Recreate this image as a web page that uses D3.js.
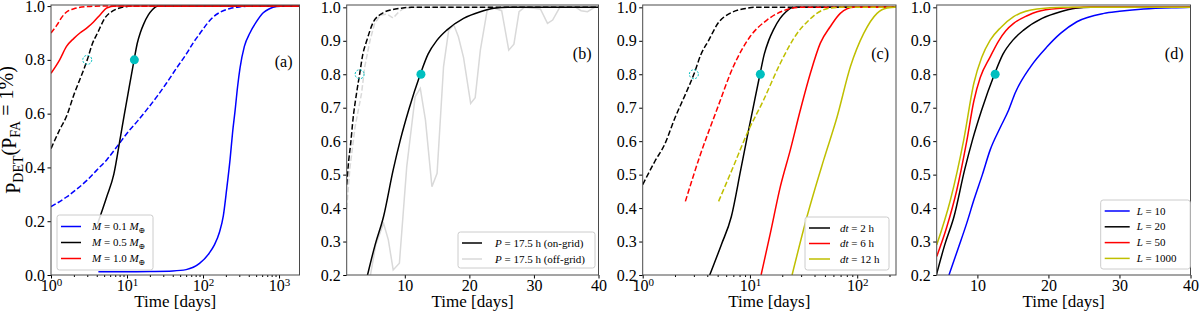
<!DOCTYPE html>
<html>
<head>
<meta charset="utf-8">
<script src="https://cdn.jsdelivr.net/npm/d3@7"></script>
<style>
  body { margin: 0; background: #fff; }
  svg { display: block; }
  text { font-family: "Liberation Serif", "DejaVu Serif", serif; fill: #000; }
</style>
</head>
<body>
<div id="chart"></div>
<script>
// ---- data: [time in days, P_DET] ----

// (a) mass series
const massSmallSolid = [[4.2,0.012],[10,0.012],[20,0.013],[40,0.015],[60,0.02],[90,0.043],[120,0.08],[140,0.11],[165,0.16],[185,0.22],[205,0.32],[227,0.43],[245,0.53],[264,0.61],[285,0.70],[307,0.77],[350,0.85],[414,0.90],[500,0.94],[620,0.975],[750,0.99],[930,0.998],[1200,1.0],[1900,1.0]];
const massSmallDash = [[1,0.254],[1.6,0.29],[2.2,0.32],[3,0.353],[4,0.39],[5.4,0.428],[7.5,0.48],[10,0.527],[14,0.575],[18,0.613],[25,0.665],[33,0.713],[45,0.77],[61,0.824],[75,0.865],[91,0.898],[110,0.93],[137,0.96],[170,0.978],[227,0.991],[300,0.997],[414,1.0],[1900,1.0]];
const massLargeSolid = [[1,0.75],[1.3,0.80],[1.6,0.85],[2,0.88],[2.4,0.90],[3,0.92],[3.6,0.94],[4.5,0.97],[5.4,0.993],[7,1.0],[1900,1.0]];
const massLargeDash = [[1,0.90],[1.2,0.93],[1.4,0.96],[1.6,0.978],[2,0.99],[3,0.998],[5,1.0],[1900,1.0]];

// reference case (0.5 M_earth, P = 17.5 h on-grid, dt = 2 h, L = 20), shared by all panels
const onGrid = [[4.1,0.19],[5.4,0.29],[6.7,0.374],[8.2,0.514],[9.3,0.603],[10.6,0.693],[12.4,0.80],[13.6,0.86],[15,0.902],[16.5,0.932],[19.1,0.967],[21.7,0.987],[23.8,0.997],[26,1.0],[1900,1.0]];
const onGridDash = [[1,0.47],[1.3,0.54],[1.6,0.59],[2.0,0.67],[2.5,0.74],[3.0,0.80],[3.5,0.86],[4.1,0.90],[5.1,0.955],[6.5,0.982],[8,0.993],[9.3,0.997],[11,1.0],[1900,1.0]];

// (b) off-grid period
const offGrid = [[4.5,0.18],[5.5,0.29],[6.7,0.355],[7.45,0.305],[8.2,0.215],[9.16,0.235],[10.3,0.524],[11.6,0.733],[12.4,0.758],[13.2,0.663],[14.2,0.464],[15,0.504],[16,0.823],[16.8,0.932],[17.6,0.947],[18.3,0.912],[19.1,0.85],[20.2,0.713],[20.9,0.73],[21.7,0.872],[22.75,0.99],[23.5,1.0],[25,0.99],[26.1,0.872],[26.9,0.89],[27.7,0.987],[28.5,1.0],[31,0.995],[32.1,0.952],[32.9,0.962],[34,1.0],[36.5,1.0],[37.3,0.99],[38.3,0.987],[39.4,1.0],[40,1.0]];
const offGridDash = [[1,0.40],[1.5,0.52],[2.3,0.643],[3.3,0.743],[3.8,0.823],[4.6,0.90],[5.3,0.95],[6.2,0.977],[7.2,0.98],[8.2,0.968],[9,0.985],[9.8,0.997],[11,1.0],[40,1.0]];

// (c) sampling interval
const dt6Solid = [[12.7,0.2],[15.5,0.325],[19.2,0.464],[23.8,0.574],[29.5,0.693],[36.6,0.803],[45.3,0.893],[56,0.942],[69.5,0.982],[93,1.0],[300,1.0]];
const dt6Dash = [[2.5,0.42],[3.4,0.554],[4.9,0.693],[7,0.823],[10,0.912],[14.4,0.962],[20.6,0.99],[30,1.0],[300,1.0]];
const dt12Solid = [[24.7,0.2],[34,0.374],[48.7,0.544],[65,0.673],[86.5,0.823],[115,0.922],[153,0.982],[190,0.998],[225,1.0],[300,1.0]];
const dt12Dash = [[5.1,0.42],[7,0.524],[9.4,0.623],[13.4,0.723],[19.2,0.833],[27.5,0.922],[35,0.96],[42,0.982],[56,0.998],[70,1.0],[300,1.0]];

// (d) number of light curves
const lc10 = [[6.0,0.2],[7.3,0.28],[8.5,0.355],[9.5,0.424],[10.7,0.50],[11.8,0.574],[13.2,0.64],[14.4,0.693],[15.3,0.743],[17.5,0.823],[19.8,0.882],[21.7,0.922],[24,0.957],[27.8,0.982],[30,0.988],[33.4,0.995],[38,0.999],[40,1.0]];
const lc50 = [[4.27,0.255],[5.7,0.344],[7.1,0.454],[8.5,0.60],[9.5,0.72],[10.4,0.79],[11.8,0.852],[13,0.90],[14,0.93],[15.1,0.952],[17,0.975],[18.4,0.987],[21.7,0.997],[25,1.0],[40,1.0]];
const lc1000 = [[4.27,0.29],[6.2,0.424],[8.07,0.603],[9.5,0.773],[10.6,0.85],[11.8,0.902],[13.3,0.94],[15.1,0.972],[18.4,0.995],[22,1.0],[40,1.0]];

// detection markers (80% detection)
const markOn = [12.5, 0.8];
const markOff = [3.0, 0.8];

// labels
const panelLabels = ["(a)", "(b)", "(c)", "(d)"];
const legendA = [[{t:"M",i:1},{t:" = 0.1 "},{t:"M",i:1},{t:"⊕",s:1}], [{t:"M",i:1},{t:" = 0.5 "},{t:"M",i:1},{t:"⊕",s:1}], [{t:"M",i:1},{t:" = 1.0 "},{t:"M",i:1},{t:"⊕",s:1}]];
const legendB = [[{t:"P",i:1},{t:" = 17.5 h (on-grid)"}], [{t:"P",i:1},{t:" = 17.5 h (off-grid)"}]];
const legendC = [[{t:"dt",i:1},{t:" = 2 h"}], [{t:"dt",i:1},{t:" = 6 h"}], [{t:"dt",i:1},{t:" = 12 h"}]];
const legendD = [[{t:"L",i:1},{t:" = 10"}], [{t:"L",i:1},{t:" = 20"}], [{t:"L",i:1},{t:" = 50"}], [{t:"L",i:1},{t:" = 1000"}]];
const xLabel = "Time [days]";

// ---- drawing ----
const BLUE = "#0000ff", RED = "#ff0000", YEL = "#bfbf00", BLK = "#000000", GRY = "#d9d9d9", CYAN = "#00bfbf";
const DASH = "5.5,2.4";
const plotTop = 5, plotBottom = 275;

const svg = d3.select("#chart").append("svg").attr("width", 1200).attr("height", 317);

function drawPanel(p, idx) {
  const x = (p.log ? d3.scaleLog() : d3.scaleLinear()).domain(p.xDomain).range([p.left, p.right]);
  const y = d3.scaleLinear().domain(p.yDomain).range([plotBottom, plotTop]);
  const g = svg.append("g");

  const clipId = "clip" + idx;
  g.append("clipPath").attr("id", clipId)
    .append("rect").attr("x", p.left).attr("y", plotTop).attr("width", p.right - p.left).attr("height", plotBottom - plotTop);

  const line = d3.line().x(d => x(d[0])).y(d => y(d[1]));
  const plot = g.append("g").attr("clip-path", `url(#${clipId})`);
  p.series.forEach(s => {
    plot.append("path")
      .attr("d", line.curve(s.jagged ? d3.curveLinear : d3.curveMonotoneX)(s.data))
      .attr("fill", "none")
      .attr("stroke", s.color)
      .attr("stroke-width", 1.5)
      .attr("stroke-dasharray", s.dash ? DASH : null);
  });

  // 80% markers
  if (p.openMark) {
    plot.append("circle").attr("cx", x(markOff[0])).attr("cy", y(markOff[1])).attr("r", 4.5)
      .attr("fill", "none").attr("stroke", CYAN).attr("stroke-width", 1).attr("stroke-dasharray", "2,1.5");
  }
  plot.append("circle").attr("cx", x(markOn[0])).attr("cy", y(markOn[1])).attr("r", 4.5).attr("fill", CYAN);

  // axes
  const yAxis = d3.axisLeft(y).tickValues(p.yTicks).tickFormat(d3.format(".1f")).tickSize(3.5).tickPadding(2.5);
  const ya = g.append("g").attr("transform", `translate(${p.left},0)`).call(yAxis);
  const xAxis = d3.axisBottom(x).tickValues(p.xTicks).tickSize(3.5).tickPadding(1.5)
    .tickFormat(p.log ? () => "" : d3.format("d"));
  const xa = g.append("g").attr("transform", `translate(0,${plotBottom})`).call(xAxis);
  [ya, xa].forEach(a => {
    a.attr("font-size", null).attr("font-family", null);
    a.select(".domain").remove();
    a.selectAll(".tick text").style("font-size", "16px");
  });
  if (p.log) {
    xa.selectAll(".tick text").each(function (d) {
      const t = d3.select(this);
      t.append("tspan").text("10");
      t.append("tspan").attr("dy", "-0.45em").style("font-size", "11px").text(Math.round(Math.log10(d)));
    });
    const minor = [];
    for (let e = 0; e < 4; e++) for (let k = 2; k < 10; k++) {
      const v = k * Math.pow(10, e);
      if (v < p.xDomain[1]) minor.push(v);
    }
    g.append("g").attr("transform", `translate(0,${plotBottom})`)
      .call(d3.axisBottom(x).tickValues(minor).tickSize(2).tickFormat(""))
      .call(a => a.select(".domain").remove());
  }

  // frame
  g.append("rect").attr("x", p.left).attr("y", plotTop).attr("width", p.right - p.left).attr("height", plotBottom - plotTop)
    .attr("fill", "none").attr("stroke", "#4a4a4a").attr("stroke-width", 1);

  // panel letter
  g.append("text").attr("x", p.right - 7).attr("y", p.labelY).attr("text-anchor", "end")
    .style("font-size", "16px").attr("dy", "0.35em").text(panelLabels[idx]);

  // x label
  g.append("text").attr("x", (p.left + p.right) / 2).attr("y", 307).attr("text-anchor", "middle")
    .style("font-size", "17px").text(xLabel);

  // legend
  const L = p.legend;
  const lg = g.append("g");
  lg.append("rect").attr("x", L.x).attr("y", L.y).attr("width", L.w).attr("height", L.h).attr("rx", 2.5)
    .attr("fill", "#fff").attr("fill-opacity", 0.85).attr("stroke", "#cccccc").attr("stroke-width", 1);
  L.labels.forEach((lab, i) => {
    const yy = L.y + L.first + i * L.step;
    lg.append("line").attr("x1", L.x + 4).attr("x2", L.x + 4 + L.len).attr("y1", yy).attr("y2", yy)
      .attr("stroke", L.colors[i]).attr("stroke-width", 1.5);
    const t = lg.append("text").attr("x", L.x + L.textDx).attr("y", yy).attr("dy", "0.33em").style("font-size", "11px");
    lab.forEach(seg => {
      const ts = t.append("tspan").text(seg.t);
      if (seg.i) ts.style("font-style", "italic");
      if (seg.s) ts.attr("dy", "0.3em").style("font-size", "8px");
    });
  });
}

const panels = [
  {
    left: 51, right: 299.5, log: true, xDomain: [1, 1860], xTicks: [1, 10, 100, 1000],
    yDomain: [0, 1.004], yTicks: [0, 0.2, 0.4, 0.6, 0.8, 1.0], labelY: 61, openMark: true,
    series: [
      { data: massSmallDash, color: BLUE, dash: true },
      { data: massSmallSolid, color: BLUE },
      { data: onGridDash, color: BLK, dash: true },
      { data: onGrid, color: BLK },
      { data: massLargeDash, color: RED, dash: true },
      { data: massLargeSolid, color: RED }
    ],
    legend: { x: 57, y: 215, w: 96, h: 55, first: 11.5, step: 16, len: 20, textDx: 35, labels: legendA, colors: [BLUE, BLK, RED] }
  },
  {
    left: 346.7, right: 598.5, log: false, xDomain: [1, 40], xTicks: [10, 20, 30, 40],
    yDomain: [0.2, 1.007], yTicks: d3.range(0.2, 1.01, 0.1), labelY: 53, openMark: true,
    series: [
      { data: offGridDash, color: GRY, dash: true, jagged: true },
      { data: offGrid, color: GRY, jagged: true },
      { data: onGridDash, color: BLK, dash: true },
      { data: onGrid, color: BLK }
    ],
    legend: { x: 458, y: 232, w: 137, h: 36, first: 11, step: 16, len: 20, textDx: 37, labels: legendB, colors: [BLK, GRY] }
  },
  {
    left: 642.7, right: 896, log: true, xDomain: [1, 230], xTicks: [1, 10, 100],
    yDomain: [0.2, 1.007], yTicks: d3.range(0.2, 1.01, 0.1), labelY: 53, openMark: true,
    series: [
      { data: onGridDash, color: BLK, dash: true },
      { data: onGrid, color: BLK },
      { data: dt6Dash, color: RED, dash: true },
      { data: dt6Solid, color: RED },
      { data: dt12Dash, color: YEL, dash: true },
      { data: dt12Solid, color: YEL }
    ],
    legend: { x: 805, y: 217, w: 84, h: 53, first: 11, step: 15.5, len: 21, textDx: 35, labels: legendC, colors: [BLK, RED, YEL] }
  },
  {
    left: 936.7, right: 1190.5, log: false, xDomain: [4.27, 40], xTicks: [10, 20, 30, 40],
    yDomain: [0.2, 1.007], yTicks: d3.range(0.2, 1.01, 0.1), labelY: 53, openMark: false,
    series: [
      { data: lc10, color: BLUE },
      { data: onGrid, color: BLK },
      { data: lc50, color: RED },
      { data: lc1000, color: YEL }
    ],
    legend: { x: 1100.7, y: 200, w: 89.5, h: 69, first: 11, step: 15.8, len: 25, textDx: 36, labels: legendD, colors: [BLUE, BLK, RED, YEL] }
  }
];

panels.forEach(drawPanel);

// y-axis label of panel (a): P_DET(P_FA = 1%)
const yl = svg.append("text").attr("transform", "translate(19.5,130) rotate(-90)").attr("text-anchor", "middle")
  .style("font-size", "20px");
yl.append("tspan").text("P");
yl.append("tspan").attr("dy", "0.25em").style("font-size", "14px").text("DET");
yl.append("tspan").attr("dy", "-0.35em").text("(P");
yl.append("tspan").attr("dy", "0.25em").style("font-size", "14px").text("FA");
yl.append("tspan").attr("dy", "-0.35em").text(" = 1%)");
</script>
</body>
</html>
